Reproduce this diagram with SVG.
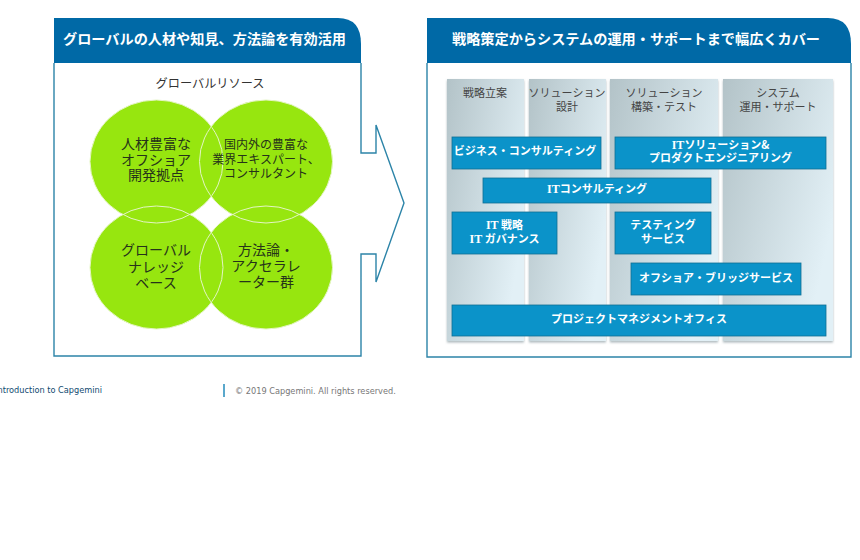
<svg xmlns="http://www.w3.org/2000/svg" width="860" height="560" viewBox="0 0 860 560">
<style>
text{font-family:"Noto Sans CJK JP","Noto Sans",sans-serif;text-anchor:middle}
.hd{fill:#0069a6}
.hdt{fill:#fff;font-size:14px;font-weight:700}
.frame{fill:none;stroke:#2c84a8;stroke-width:1.4}
.col{fill:url(#colGrad);filter:url(#sh)}
.colt{fill:#444;font-size:11px}
.box{fill:#0b93c9;stroke:#0f6f95;stroke-width:.8}
.boxt{fill:#fff;font-size:11px;font-weight:700}
.it{font-family:"Liberation Serif",serif;font-size:12px}
.c{fill:#97e60f}
.o{fill:none;stroke:#e4f5c4;stroke-width:1}
.ct{fill:#26331a;font-size:14px}
.ct2{fill:#26331a;font-size:12px}
.ft{font-family:"DejaVu Sans",sans-serif;font-size:8.200px}
</style>
<defs>
<linearGradient id="colGrad" x1="0" y1="0" x2="1" y2="0.55">
<stop offset="0" stop-color="#b3c3c8"/><stop offset="1" stop-color="#e2f0f6"/>
</linearGradient>
<filter id="sh" x="-10%" y="-5%" width="120%" height="110%">
<feDropShadow dx="0" dy="1.5" stdDeviation="1.2" flood-color="#8a9aa0" flood-opacity=".7"/>
</filter>
</defs>
<rect width="860" height="560" fill="#fff"/>

<g id="left-panel">
<path class="hd" d="M54 18H338Q361 18 361 44V63H54Z"/>
<text class="hdt" x="204.500" y="43.500" textLength="283" lengthAdjust="spacingAndGlyphs">グローバルの人材や知見、方法論を有効活用</text>
<path class="frame" d="M361 63V153H376V125L404 203L376 282V254H361V356H54V63"/>
<text x="210" y="88" fill="#333" font-size="12.200">グローバルリソース</text>
</g>

<g id="node-talent"><ellipse class="c" cx="156.500" cy="161.500" rx="66.500" ry="61.500"/></g>
<g id="node-experts"><ellipse class="c" cx="266" cy="161.500" rx="66.500" ry="61.500"/></g>
<g id="node-knowledge"><ellipse class="c" cx="156.500" cy="267.500" rx="66.500" ry="61.500"/></g>
<g id="node-method"><ellipse class="c" cx="266" cy="267.500" rx="66.500" ry="61.500"/></g>
<g id="overlaps">
<ellipse class="o" cx="156.500" cy="161.500" rx="66.500" ry="61.500"/>
<ellipse class="o" cx="266" cy="161.500" rx="66.500" ry="61.500"/>
<ellipse class="o" cx="156.500" cy="267.500" rx="66.500" ry="61.500"/>
<ellipse class="o" cx="266" cy="267.500" rx="66.500" ry="61.500"/>
</g>
<g id="circle-labels">
<text class="ct" x="156" y="149">人材豊富な</text>
<text class="ct" x="156" y="164.500">オフショア</text>
<text class="ct" x="156" y="180">開発拠点</text>
<text class="ct2" x="266" y="149">国内外の豊富な</text>
<text class="ct2" x="266" y="164">業界エキスパート、</text>
<text class="ct2" x="266" y="178">コンサルタント</text>
<text class="ct" x="156" y="255">グローバル</text>
<text class="ct" x="156" y="271.500">ナレッジ</text>
<text class="ct" x="156" y="288">ベース</text>
<text class="ct" x="266" y="255">方法論・</text>
<text class="ct" x="266" y="271">アクセラレ</text>
<text class="ct" x="266" y="286.500">ーター群</text>
</g>

<g id="right-panel">
<path class="hd" d="M427 18H828Q851 18 851 44V63H427Z"/>
<text class="hdt" x="636" y="43.500" textLength="368" lengthAdjust="spacingAndGlyphs">戦略策定からシステムの運用・サポートまで幅広くカバー</text>
<path class="frame" d="M851 63V357H427V63"/>
</g>

<g id="columns">
<rect class="col" x="447" y="79" width="77" height="262"/>
<rect class="col" x="529" y="79" width="77" height="262"/>
<rect class="col" x="610" y="79" width="108" height="262"/>
<rect class="col" x="723" y="79" width="110" height="262"/>
<text class="colt" x="485" y="97">戦略立案</text>
<text class="colt" x="567" y="97">ソリューション</text>
<text class="colt" x="567" y="110.500">設計</text>
<text class="colt" x="664" y="97">ソリューション</text>
<text class="colt" x="664" y="110.500">構築・テスト</text>
<text class="colt" x="778" y="97">システム</text>
<text class="colt" x="778" y="110.500">運用・サポート</text>
</g>

<g id="node-business"><rect class="box" x="452" y="137" width="149" height="32"/><text class="boxt" x="525" y="155">ビジネス・コンサルティング</text></g>
<g id="node-it-solution"><rect class="box" x="615" y="137" width="211" height="32"/><text class="boxt" x="720.500" y="148.500"><tspan class="it">IT</tspan>ソリューション&amp;</text><text class="boxt" x="720.500" y="161.500">プロダクトエンジニアリング</text></g>
<g id="node-it-consulting"><rect class="box" x="483" y="178" width="228" height="25"/><text class="boxt" x="597" y="193"><tspan class="it">IT</tspan>コンサルティング</text></g>
<g id="node-it-strategy"><rect class="box" x="452" y="212" width="105" height="42"/><text class="boxt" x="504.500" y="229"><tspan class="it">IT</tspan> 戦略</text><text class="boxt" x="504.500" y="243"><tspan class="it">IT</tspan> ガバナンス</text></g>
<g id="node-testing"><rect class="box" x="615" y="212" width="96" height="42"/><text class="boxt" x="663" y="229">テスティング</text><text class="boxt" x="663" y="243">サービス</text></g>
<g id="node-offshore"><rect class="box" x="631" y="263" width="170" height="32"/><text class="boxt" x="716" y="282">オフショア・ブリッジサービス</text></g>
<g id="node-pmo"><rect class="box" x="452" y="305" width="374" height="31"/><text class="boxt" x="639" y="323">プロジェクトマネジメントオフィス</text></g>

<g id="footer">
<text class="ft" x="102" y="393" fill="#0f4a70" style="text-anchor:end">Introduction to Capgemini</text>
<rect x="223" y="384" width="2" height="13" fill="#5aa8cc"/>
<text class="ft" x="235" y="394" fill="#777" style="text-anchor:start">© 2019 Capgemini. All rights reserved.</text>
</g>
</svg>
